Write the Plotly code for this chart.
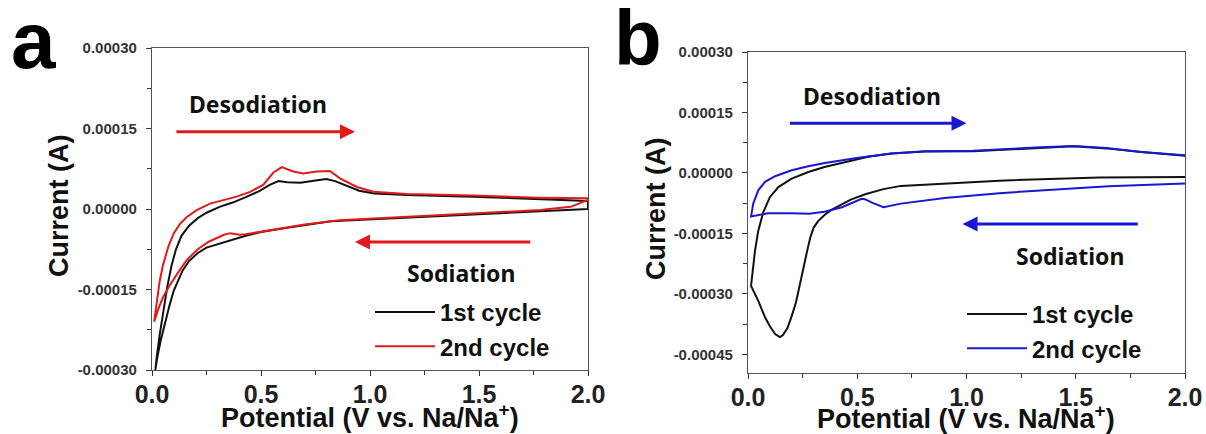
import plotly.graph_objects as go

# ---------------- data ----------------
# Panel a, 1st cycle (cathodic sweep 2.0 -> 0.01 V, then anodic 0.01 -> 2.0 V)
a1_x = [2.00, 1.80, 1.50, 1.20, 1.00, 0.82, 0.62, 0.50, 0.43, 0.36, 0.30, 0.25, 0.21, 0.17, 0.14, 0.12, 0.10, 0.08, 0.06, 0.04, 0.025, 0.015,
        0.022, 0.035, 0.05, 0.07, 0.09, 0.11, 0.135, 0.17, 0.21, 0.25, 0.31, 0.37, 0.43, 0.49, 0.54, 0.58, 0.62, 0.68, 0.75, 0.80, 0.84, 0.90, 0.95, 1.02, 1.17, 1.47, 1.78, 2.00, 2.00]
a1_y = [0.0, -0.000004, -0.000009, -0.000015, -0.000019, -0.000023, -0.000035, -0.000043, -0.000050, -0.000058, -0.000065, -0.000072, -0.000082, -0.000097, -0.000115, -0.000132, -0.000152, -0.000180, -0.000212, -0.000245, -0.000275, -0.000300,
        -0.000275, -0.000235, -0.000195, -0.000145, -0.000105, -0.000075, -0.000050, -0.000031, -0.000017, -0.000007, 0.000004, 0.000012, 0.000022, 0.000033, 0.000045, 0.000052, 0.000050, 0.000049, 0.000053, 0.000056, 0.000052, 0.000042, 0.000034, 0.000029, 0.000026, 0.000023, 0.000018, 0.000015, 0.0]
# Panel a, 2nd cycle
a2_x = [2.00, 1.96, 1.92, 1.78, 1.47, 1.17, 0.86, 0.70, 0.60, 0.51, 0.43, 0.40, 0.36, 0.33, 0.30, 0.26, 0.21, 0.16, 0.12, 0.08, 0.05, 0.03, 0.01,
        0.02, 0.035, 0.05, 0.075, 0.10, 0.13, 0.16, 0.205, 0.266, 0.327, 0.388, 0.45, 0.51, 0.557, 0.595, 0.648, 0.694, 0.755, 0.816, 0.862, 0.94, 1.015, 1.17, 1.47, 1.78, 2.00]
a2_y = [0.000017, 0.000010, 0.000004, -0.000002, -0.000008, -0.000014, -0.000021, -0.000029, -0.000036, -0.000042, -0.000047, -0.000048, -0.000045, -0.000048, -0.000053, -0.000061, -0.000075, -0.000095, -0.000118, -0.000143, -0.000165, -0.000185, -0.000210,
        -0.000180, -0.000135, -0.000105, -0.000070, -0.000045, -0.000027, -0.000015, -0.000002, 0.000010, 0.000017, 0.000023, 0.000032, 0.000045, 0.000068, 0.000078, 0.000070, 0.000066, 0.000070, 0.000071, 0.000057, 0.000041, 0.000032, 0.000028, 0.000025, 0.000021, 0.000020]

# Panel b, 1st cycle
b1_x = [2.00, 1.61, 1.15, 0.81, 0.70, 0.62, 0.54, 0.47, 0.43, 0.38, 0.35, 0.32, 0.30, 0.285, 0.27, 0.255, 0.24, 0.22, 0.20, 0.18, 0.16, 0.146, 0.125, 0.10, 0.078, 0.047, 0.014,
        0.020, 0.032, 0.047, 0.070, 0.10, 0.139, 0.20, 0.276, 0.35, 0.45, 0.55, 0.657, 0.81, 1.03, 1.34, 1.49, 1.64, 1.80, 2.00]
b1_y = [-0.000010, -0.000011, -0.000019, -0.000028, -0.000032, -0.000040, -0.000052, -0.000066, -0.000078, -0.000092, -0.000104, -0.000120, -0.000136, -0.000160, -0.000195, -0.000235, -0.000275, -0.000320, -0.000355, -0.000385, -0.000402, -0.000407, -0.000400, -0.000380, -0.000358, -0.000317, -0.000280,
        -0.000250, -0.000193, -0.000143, -0.000097, -0.000060, -0.000035, -0.000014, 0.0000025, 0.000015, 0.000028, 0.000040, 0.000048, 0.000053, 0.000054, 0.000063, 0.000066, 0.000061, 0.000052, 0.000043]
# Panel b, 2nd cycle
b2_x = [2.00, 1.65, 1.15, 0.90, 0.70, 0.62, 0.57, 0.535, 0.52, 0.50, 0.43, 0.35, 0.28, 0.20, 0.09, 0.014,
        0.024, 0.047, 0.078, 0.124, 0.20, 0.276, 0.352, 0.505, 0.657, 0.81, 1.03, 1.34, 1.49, 1.64, 1.80, 2.00]
b2_y = [-0.000026, -0.000033, -0.000050, -0.000062, -0.000076, -0.000085, -0.000074, -0.000065, -0.000064, -0.000069, -0.000085, -0.000096, -0.000101, -0.000100, -0.000100, -0.000108,
        -0.000076, -0.000043, -0.000022, -0.000008, 0.0000066, 0.0000166, 0.000025, 0.000038, 0.000048, 0.000054, 0.000055, 0.000064, 0.000067, 0.000062, 0.000052, 0.000044]

series_names = ["1st cycle", "2nd cycle"]
x_ticks = [0.0, 0.5, 1.0, 1.5, 2.0]
x_ticklabels = ["0.0", "0.5", "1.0", "1.5", "2.0"]
ya_ticks = [0.0003, 0.00015, 0.0, -0.00015, -0.0003]
yb_ticks = [0.0003, 0.00015, 0.0, -0.00015, -0.0003, -0.00045]
x_title = "Potential (V vs. Na/Na<sup>+</sup>)"
y_title = "Current (A)"

RED = "#e3191c"
BLUE = "#1818d4"
BLACK = "#111111"
W, H = 1206, 434

def px(x):
    return x / W

def py(y):
    return 1 - y / H

fig = go.Figure()
fig.add_trace(go.Scatter(x=a1_x, y=a1_y, mode="lines", name=series_names[0], line=dict(color=BLACK, width=2),
                         xaxis="x", yaxis="y", legend="legend"))
fig.add_trace(go.Scatter(x=a2_x, y=a2_y, mode="lines", name=series_names[1], line=dict(color=RED, width=2),
                         xaxis="x", yaxis="y", legend="legend"))
fig.add_trace(go.Scatter(x=b1_x, y=b1_y, mode="lines", name=series_names[0], line=dict(color=BLACK, width=2),
                         xaxis="x2", yaxis="y2", legend="legend2"))
fig.add_trace(go.Scatter(x=b2_x, y=b2_y, mode="lines", name=series_names[1], line=dict(color=BLUE, width=2),
                         xaxis="x2", yaxis="y2", legend="legend2"))

FONT = "Liberation Sans, Arial, sans-serif"
TXT = "Noto Sans, Open Sans, sans-serif"

def xaxis(domain, anchor):
    return dict(domain=domain, anchor=anchor, range=[0, 2], tickmode="array", tickvals=x_ticks, ticktext=x_ticklabels,
                ticks="outside", ticklen=5, tickwidth=1.2, tickcolor="#333", showline=True, linecolor="#555",
                linewidth=1.3, mirror=True, showgrid=False, zeroline=False, automargin=False, ticklabelstandoff=-3,
                tickfont=dict(family=FONT, size=25, color="#222", weight="bold"),
                minor=dict(ticks="outside", ticklen=4, tickwidth=1, tickcolor="#333", tickmode="linear", tick0=0, dtick=0.25, showgrid=False))

def yaxis(domain, anchor, rng, ticks):
    return dict(domain=domain, anchor=anchor, range=rng, tickmode="array", tickvals=ticks,
                ticktext=[f"{v:.5f}" for v in ticks],
                ticks="outside", ticklen=5, tickwidth=1.2, tickcolor="#333", showline=True, linecolor="#555",
                linewidth=1.3, mirror=True, showgrid=False, zeroline=False, ticklabelstandoff=6, automargin=False,
                tickfont=dict(family=FONT, size=15, color="#333", weight="bold"),
                minor=dict(ticks="outside", ticklen=4, tickwidth=1, tickcolor="#333", tickmode="linear", tick0=0, dtick=0.000075, showgrid=False))

fig.update_layout(
    template="none",
    width=W, height=H, margin=dict(l=0, r=0, t=0, b=0, pad=0, autoexpand=False),
    paper_bgcolor="white", plot_bgcolor="white",
    xaxis=xaxis([px(152), px(588)], "y"),
    yaxis=yaxis([py(370), py(48)], "x", [-0.0003, 0.0003], ya_ticks),
    xaxis2=xaxis([px(748), px(1185)], "y2"),
    yaxis2=yaxis([py(373), py(52)], "x2", [-0.000496, 0.0003], yb_ticks),
    showlegend=True,
    legend=dict(x=px(370), y=py(290), xanchor="left", yanchor="top", bgcolor="rgba(0,0,0,0)",
                font=dict(family=FONT, size=24, color="#111", weight="bold"), itemwidth=60, tracegroupgap=0),
    legend2=dict(x=px(962), y=py(292), xanchor="left", yanchor="top", bgcolor="rgba(0,0,0,0)",
                 font=dict(family=FONT, size=24, color="#111", weight="bold"), itemwidth=60, tracegroupgap=0),
)

ann = []
# panel letters
ann.append(dict(text="a", x=px(33), y=py(40), xref="paper", yref="paper", showarrow=False,
                xanchor="center", yanchor="middle",
                font=dict(family=FONT, size=80, color="black", weight="bold")))
ann.append(dict(text="b", x=px(638), y=py(38), xref="paper", yref="paper", showarrow=False,
                xanchor="center", yanchor="middle",
                font=dict(family=FONT, size=78, color="black", weight="bold")))
# axis titles
for cx, cy in [(59, 206), (656, 209)]:
    ann.append(dict(text=y_title, x=px(cx), y=py(cy), xref="paper", yref="paper", showarrow=False, textangle=-90,
                    xanchor="center", yanchor="middle",
                    font=dict(family=FONT, size=27, color="#111", weight="bold")))
for cx, cy in [(370, 416), (966, 417)]:
    ann.append(dict(text=x_title, x=px(cx), y=py(cy), xref="paper", yref="paper", showarrow=False,
                    xanchor="center", yanchor="middle",
                    font=dict(family=FONT, size=27, color="#111", weight="bold")))
# labels
labels = [("Desodiation", "x", "y", 0.488, 0.000195), ("Sodiation", "x", "y", 1.417, -0.00012),
          ("Desodiation", "x2", "y2", 0.566, 0.000192), ("Sodiation", "x2", "y2", 1.474, -0.000206)]
for t, xr, yr, x, y in labels:
    ann.append(dict(text=t, x=x, y=y, xref=xr, yref=yr, showarrow=False, xanchor="center", yanchor="middle",
                    font=dict(family=TXT, size=23, color="#111", weight="bold")))
# direction arrows
arrows = [("x", "y", 0.105, 0.931, 0.000144, RED), ("x", "y", 1.742, 0.931, -0.0000615, RED),
          ("x2", "y2", 0.185, 1.0, 0.0001235, BLUE), ("x2", "y2", 1.791, 0.982, -0.0001268, BLUE)]
for xr, yr, x0, x1, y, c in arrows:
    ann.append(dict(text="", x=x1, y=y, ax=x0, ay=y, xref=xr, yref=yr, axref=xr, ayref=yr, showarrow=True,
                    arrowhead=2, arrowsize=1.0, arrowwidth=3, arrowcolor=c, standoff=0))
fig.update_layout(annotations=ann)

fig.write_html("out.html")
